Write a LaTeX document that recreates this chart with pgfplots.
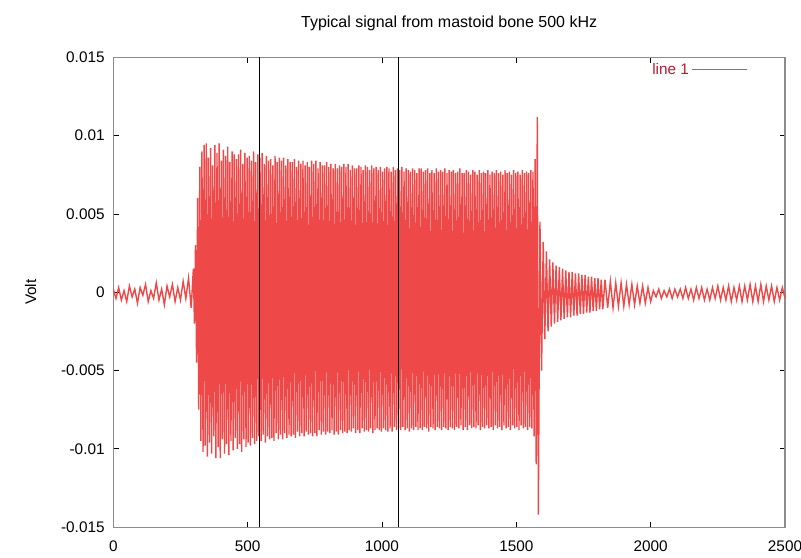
\documentclass[border=0pt]{standalone}
\usepackage{pgfplots}
\pgfplotsset{compat=1.18}
\usepackage{fontspec}
\setmainfont{Liberation Sans}
\definecolor{sig}{RGB}{238,72,72}
\definecolor{legtxt}{RGB}{175,30,50}
\definecolor{axgray}{RGB}{140,140,140}
\begin{document}
\begin{tikzpicture}
\begin{axis}[
  name=ax,
  scale only axis,
  width=504pt, height=352.5pt,
  xmin=0, xmax=2500, ymin=-0.015, ymax=0.015,
  xtick={0,500,1000,1500,2000,2500},
  ytick={-0.015,-0.01,-0.005,0,0.005,0.01,0.015},
  yticklabels={-0.015,-0.01,-0.005,0,0.005,0.01,0.015},
  scaled y ticks=false,
  /pgf/number format/set thousands separator={},
  /pgf/number format/assume math mode=true,
  tick label style={font=\fontsize{11.5}{13}\selectfont},
  xticklabel style={yshift=-7pt},
  yticklabel style={xshift=-3pt},
  axis line style={axgray, line width=0.9pt},
  tick style={black, line width=0.5pt},
  major tick length=4pt,
  tick align=inside,
  title={Typical signal from mastoid bone 500 kHz},
  title style={font=\fontsize{12}{14}\selectfont, at={(0.5,1)}, anchor=south, yshift=10pt},
  ylabel={Volt},
  ylabel style={font=\fontsize{11.5}{13}\selectfont, at={(axis description cs:-0.123,0.5)}, anchor=center},
  legend style={draw=none, fill=none, at={(0.95,1.0)}, anchor=north east,
    font=\fontsize{11.5}{13}\selectfont\color{legtxt}},
  legend plot pos=right,
  legend cell align=right,
  legend image code/.code={\draw[sig, line width=0.4pt] (0cm,0cm) -- (1.45cm,0cm);},
  clip=true,
]
\addplot[sig, line width=1.05pt] coordinates {
(0,0.0002)(10,-0.0004)(20,0.0003)(30,-0.0005)(40,0.0001)(50,-0.0006)(60,0.0004)(70,-0.0003)(80,0.0002)(90,-0.0007)
(100,0.0003)(110,-0.0002)(120,0.0005)(130,-0.0006)(140,0.0001)(150,-0.0004)(160,0.0006)(170,-0.0005)(180,0.0002)(190,-0.0008)
(200,0.0004)(210,-0.0003)(220,0.0005)(230,-0.0006)(240,0.0003)(250,-0.0005)(260,0.0007)(270,-0.0004)(280,0.0009)(290,-0.0010)(298,0.0015)(302,-0.0020)
(306,0.0030)(310,-0.0045)(314,0.0060)(318,-0.0075)(322,0.0080)(326,-0.0095)(330,0.0090)(334,-0.0102)(338,0.0094)(342,-0.0098)
(346,0.0095)(350,-0.0105)(354,0.0086)(358,-0.0096)(362,0.0092)(366,-0.0103)(370,0.0081)(374,-0.0092)(378,0.0094)(382,-0.0106)
(386,0.0089)(390,-0.0099)(394,0.0095)(398,-0.0106)(402,0.0084)(406,-0.0094)(410,0.0091)(414,-0.0103)(418,0.0087)(422,-0.0097)
(426,0.0093)(430,-0.0104)(434,0.0083)(438,-0.0095)(442,0.0090)(446,-0.0101)(450,0.0088)(454,-0.0093)(458,0.0085)(462,-0.0100)
(466,0.0088)(470,-0.0097)(474,0.0091)(478,-0.0102)(482,0.0082)(486,-0.0094)(490,0.0089)(494,-0.0099)(498,0.0086)(502,-0.0096)
(506,0.0087)(510,-0.0098)(514,0.0084)(518,-0.0093)(522,0.0090)(526,-0.0097)(530,0.0083)(534,-0.0095)(538,0.0088)(542,-0.0092)
(546,0.0086)(550,-0.0095)(554,0.0089)(558,-0.0091)(562,0.0082)(566,-0.0096)(570,0.0087)(574,-0.0092)(578,0.0084)(582,-0.0094)
(586,0.0085)(590,-0.0093)(594,0.0081)(598,-0.0095)(602,0.0087)(606,-0.0090)(610,0.0083)(614,-0.0094)(618,0.0086)(622,-0.0091)
(626,0.0084)(630,-0.0094)(634,0.0086)(638,-0.0090)(642,0.0081)(646,-0.0093)(650,0.0085)(654,-0.0091)(658,0.0083)(662,-0.0092)
(666,0.0083)(670,-0.0091)(674,0.0085)(678,-0.0093)(682,0.0080)(686,-0.0089)(690,0.0084)(694,-0.0092)(698,0.0082)(702,-0.0090)
(706,0.0084)(710,-0.0092)(714,0.0081)(718,-0.0089)(722,0.0083)(726,-0.0091)(730,0.0080)(734,-0.0090)(738,0.0084)(742,-0.0092)
(746,0.0082)(750,-0.0090)(754,0.0084)(758,-0.0092)(762,0.0079)(766,-0.0088)(770,0.0083)(774,-0.0091)(778,0.0081)(782,-0.0089)
(786,0.0081)(790,-0.0091)(794,0.0083)(798,-0.0089)(802,0.0080)(806,-0.0090)(810,0.0082)(814,-0.0088)(818,0.0079)(822,-0.0091)
(826,0.0082)(830,-0.0089)(834,0.0079)(838,-0.0091)(842,0.0081)(846,-0.0088)(850,0.0080)(854,-0.0090)(858,0.0082)(862,-0.0089)
(866,0.0080)(870,-0.0090)(874,0.0082)(878,-0.0088)(882,0.0078)(886,-0.0089)(890,0.0081)(894,-0.0087)(898,0.0079)(902,-0.0090)
(906,0.0079)(910,-0.0088)(914,0.0081)(918,-0.0090)(922,0.0080)(926,-0.0087)(930,0.0078)(934,-0.0089)(938,0.0081)(942,-0.0088)
(946,0.0080)(950,-0.0089)(954,0.0078)(958,-0.0087)(962,0.0081)(966,-0.0090)(970,0.0079)(974,-0.0088)(978,0.0080)(982,-0.0087)
(986,0.0078)(990,-0.0088)(994,0.0080)(998,-0.0089)(1002,0.0077)(1006,-0.0087)(1010,0.0079)(1014,-0.0088)(1018,0.0080)(1022,-0.0089)
(1026,0.0079)(1030,-0.0087)(1034,0.0077)(1038,-0.0089)(1042,0.0080)(1046,-0.0086)(1050,0.0078)(1054,-0.0088)(1058,0.0079)(1062,-0.0087)
(1066,0.0078)(1070,-0.0088)(1074,0.0080)(1078,-0.0086)(1082,0.0077)(1086,-0.0088)(1090,0.0079)(1094,-0.0087)(1098,0.0078)(1102,-0.0089)
(1106,0.0077)(1110,-0.0087)(1114,0.0079)(1118,-0.0088)(1122,0.0078)(1126,-0.0086)(1130,0.0076)(1134,-0.0088)(1138,0.0079)(1142,-0.0087)
(1146,0.0079)(1150,-0.0088)(1154,0.0077)(1158,-0.0086)(1162,0.0078)(1166,-0.0087)(1170,0.0079)(1174,-0.0089)(1178,0.0076)(1182,-0.0086)
(1186,0.0078)(1190,-0.0087)(1194,0.0076)(1198,-0.0088)(1202,0.0079)(1206,-0.0086)(1210,0.0077)(1214,-0.0087)(1218,0.0078)(1222,-0.0088)
(1226,0.0077)(1230,-0.0086)(1234,0.0079)(1238,-0.0087)(1242,0.0076)(1246,-0.0088)(1250,0.0078)(1254,-0.0086)(1258,0.0077)(1262,-0.0087)
(1266,0.0078)(1270,-0.0088)(1274,0.0076)(1278,-0.0086)(1282,0.0077)(1286,-0.0087)(1290,0.0079)(1294,-0.0085)(1298,0.0076)(1302,-0.0088)
(1306,0.0076)(1310,-0.0086)(1314,0.0078)(1318,-0.0088)(1322,0.0077)(1326,-0.0085)(1330,0.0075)(1334,-0.0087)(1338,0.0078)(1342,-0.0086)
(1346,0.0077)(1350,-0.0087)(1354,0.0075)(1358,-0.0085)(1362,0.0078)(1366,-0.0088)(1370,0.0076)(1374,-0.0086)(1378,0.0077)(1382,-0.0087)
(1386,0.0076)(1390,-0.0085)(1394,0.0078)(1398,-0.0087)(1402,0.0075)(1406,-0.0086)(1410,0.0077)(1414,-0.0088)(1418,0.0076)(1422,-0.0085)
(1426,0.0078)(1430,-0.0087)(1434,0.0076)(1438,-0.0086)(1442,0.0077)(1446,-0.0088)(1450,0.0075)(1454,-0.0085)(1458,0.0078)(1462,-0.0087)
(1466,0.0076)(1470,-0.0086)(1474,0.0077)(1478,-0.0088)(1482,0.0075)(1486,-0.0085)(1490,0.0078)(1494,-0.0087)(1498,0.0076)(1502,-0.0086)
(1506,0.0077)(1510,-0.0088)(1514,0.0075)(1518,-0.0085)(1522,0.0078)(1526,-0.0087)(1530,0.0076)(1534,-0.0086)(1538,0.0077)(1542,-0.0088)
(1546,0.0076)(1550,-0.0086)(1554,0.0078)(1558,-0.0087)(1562,0.0077)(1566,-0.0092)(1570,0.0085)(1574,-0.0110)(1578,0.0112)(1582,-0.0142)
(1588,0.0045)(1594,-0.0050)(1600,0.0032)(1606,-0.0030)(1612,0.0026)(1618,-0.0025)(1624,0.0021)(1630,-0.0022)(1636,0.0019)(1642,-0.0020)
(1648,0.0017)(1654,-0.0019)(1660,0.0016)(1666,-0.0018)(1672,0.0015)(1678,-0.0017)(1684,0.0014)(1690,-0.0016)(1696,0.0013)(1702,-0.0016)
(1708,0.0013)(1714,-0.0015)(1720,0.0012)(1726,-0.0015)(1732,0.0012)(1738,-0.0014)(1744,0.0011)(1750,-0.0014)(1756,0.0011)(1762,-0.0013)
(1768,0.0010)(1774,-0.0013)(1780,0.0010)(1786,-0.0012)(1792,0.0009)(1798,-0.0012)(1804,0.0009)(1810,-0.0011)(1816,0.0008)(1822,-0.0011)
(1830,0.0008)(1840,-0.0010)(1850,0.0007)(1860,-0.0010)(1870,0.0006)(1880,-0.0009)(1890,0.0006)(1900,-0.0009)(1910,0.0005)(1920,-0.0008)
(1930,0.0005)(1940,-0.0008)(1950,0.0004)(1960,-0.0007)(1970,0.0004)(1980,-0.0007)(1990,0.0003)(2000,-0.0006)(2010,0.0001)(2020,-0.0003)
(2030,0.0002)(2040,-0.0004)(2050,0.0001)(2060,-0.0003)(2070,0.0002)(2080,-0.0004)(2090,0.0002)(2100,-0.0003)(2110,0.0002)(2120,-0.0004)
(2130,0.0003)(2140,-0.0004)(2150,0.0002)(2160,-0.0005)(2170,0.0003)(2180,-0.0004)(2190,0.0003)(2200,-0.0005)(2210,0.0002)(2220,-0.0005)
(2230,0.0003)(2240,-0.0004)(2250,0.0004)(2260,-0.0005)(2270,0.0003)(2280,-0.0005)(2290,0.0004)(2300,-0.0006)(2310,0.0003)(2320,-0.0005)
(2330,0.0004)(2340,-0.0006)(2350,0.0004)(2360,-0.0005)(2370,0.0005)(2380,-0.0006)(2390,0.0004)(2400,-0.0006)(2410,0.0005)(2420,-0.0006)
(2430,0.0004)(2440,-0.0005)(2450,0.0004)(2460,-0.0006)(2470,0.0003)(2480,-0.0005)(2490,0.0003)(2500,-0.0004)
};
\addlegendentry{line 1}
\addplot[black, line width=0.8pt, forget plot] coordinates {(545,-0.015)(545,0.015)};
\addplot[black, line width=0.8pt, forget plot] coordinates {(1062,-0.015)(1062,0.015)};
\end{axis}
\pgfresetboundingbox
\useasboundingbox ([xshift=-85pt,yshift=-22.5pt]ax.south west) rectangle ([xshift=12pt,yshift=43pt]ax.north east);
\end{tikzpicture}
\end{document}
